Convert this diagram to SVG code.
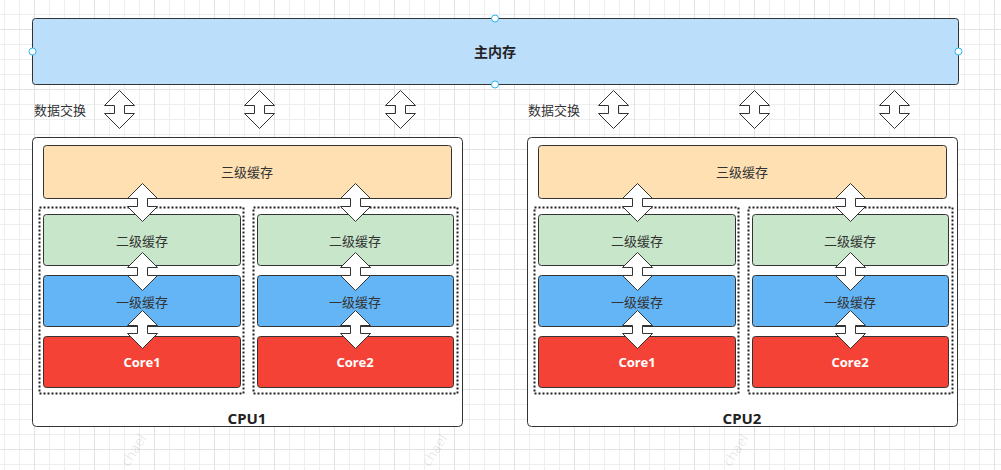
<svg xmlns="http://www.w3.org/2000/svg" width="1001" height="470" viewBox="0 0 1001 470">
<style>
.box{stroke:#333;stroke-width:1}
.mem{fill:#bbdefb}
.cpu{fill:#fff}
.l3{fill:#ffe0b2}
.l2{fill:#c8e6c9}
.l1{fill:#64b5f6}
.core{fill:#f44336}
.dot{fill:none;stroke:#222;stroke-width:2;stroke-dasharray:2 2}
.arr{fill:#fff;stroke:#333;stroke-width:1;stroke-linejoin:miter}
.handle{fill:#fff;stroke:#29b6f2;stroke-width:1}
.t{font-family:"Noto Sans CJK SC","Noto Sans",sans-serif;font-size:13px;fill:#333;text-anchor:middle;dominant-baseline:central}
.tb{font-family:"Noto Sans","Noto Sans CJK SC",sans-serif;font-weight:bold;text-anchor:middle;dominant-baseline:central}
.wm{font-family:"Noto Sans",sans-serif;font-size:14px;fill:#000;fill-opacity:0.1;text-anchor:end}
</style>
<defs>
<pattern id="grid" patternUnits="userSpaceOnUse" x="34" y="29" width="60" height="60">
<path d="M15.5,0V60M30.5,0V60M45.5,0V60M0,15.5H60M0,30.5H60M0,45.5H60" stroke="#eeeeee" stroke-width="1" fill="none"/>
<path d="M0.5,0V60M0,0.5H60" stroke="#e2e2e2" stroke-width="1" fill="none"/>
</pattern>
<path id="dbl" d="M0,0 L15,15 L5,15 L5,23 L15,23 L0,38 L-15,23 L-5,23 L-5,15 L-15,15 Z"/>
</defs>
<rect width="1001" height="470" fill="#fff"/>
<rect width="1001" height="470" fill="url(#grid)"/>
<g id="watermarks">
<text class="wm" transform="translate(147,438) rotate(-58)">chael</text>
<text class="wm" transform="translate(448,438) rotate(-58)">chael</text>
<text class="wm" transform="translate(749,438) rotate(-58)">chael</text>
</g>
<g id="main-memory">
<rect class="box mem" x="32.5" y="18.5" width="926" height="66" rx="3"/>
<text class="tb" x="495" y="51" font-size="14" fill="#222">主内存</text>
<circle class="handle" cx="495" cy="18.5" r="3.5"/>
<circle class="handle" cx="32.5" cy="51.5" r="3.5"/>
<circle class="handle" cx="958.5" cy="51.5" r="3.5"/>
<circle class="handle" cx="495" cy="84.5" r="3.5"/>
</g>
<g id="label-exchange-1"><text class="t" x="60" y="109">数据交换</text></g>
<g id="label-exchange-2"><text class="t" x="554" y="109">数据交换</text></g>
<g id="cpu1">
<rect class="box cpu" x="32.5" y="137.5" width="430" height="289" rx="4"/>
<text class="tb" x="247" y="418" font-size="15" fill="#222">CPU1</text>
</g>
<g id="cpu2">
<rect class="box cpu" x="527.5" y="137.5" width="430" height="289" rx="4"/>
<text class="tb" x="742" y="418" font-size="15" fill="#222">CPU2</text>
</g>
<g id="cpu1-l3"><rect class="box l3" x="43.5" y="145.5" width="408" height="53" rx="3"/><text class="t" x="247" y="171">三级缓存</text></g>
<g id="cpu2-l3"><rect class="box l3" x="538.5" y="145.5" width="408" height="53" rx="3"/><text class="t" x="742" y="171">三级缓存</text></g>
<g id="cpu1-group1"><rect class="dot" x="39.5" y="207.5" width="204" height="186"/></g>
<g id="cpu1-group2"><rect class="dot" x="253.5" y="207.5" width="204" height="186"/></g>
<g id="cpu2-group1"><rect class="dot" x="534.5" y="207.5" width="204" height="186"/></g>
<g id="cpu2-group2"><rect class="dot" x="748.5" y="207.5" width="204" height="186"/></g>
<g id="cpu1-l2a"><rect class="box l2" x="43.5" y="214.5" width="197" height="51" rx="3"/><text class="t" x="142" y="240">二级缓存</text></g>
<g id="cpu1-l2b"><rect class="box l2" x="257.5" y="214.5" width="196" height="51" rx="3"/><text class="t" x="355" y="240">二级缓存</text></g>
<g id="cpu2-l2a"><rect class="box l2" x="538.5" y="214.5" width="197" height="51" rx="3"/><text class="t" x="637" y="240">二级缓存</text></g>
<g id="cpu2-l2b"><rect class="box l2" x="752.5" y="214.5" width="196" height="51" rx="3"/><text class="t" x="850" y="240">二级缓存</text></g>
<g id="cpu1-l1a"><rect class="box l1" x="43.5" y="275.5" width="197" height="51" rx="3"/></g>
<g id="cpu1-l1b"><rect class="box l1" x="257.5" y="275.5" width="196" height="51" rx="3"/></g>
<g id="cpu2-l1a"><rect class="box l1" x="538.5" y="275.5" width="197" height="51" rx="3"/></g>
<g id="cpu2-l1b"><rect class="box l1" x="752.5" y="275.5" width="196" height="51" rx="3"/></g>
<g id="cpu1-core1"><rect class="box core" x="43.5" y="336.5" width="197" height="51" rx="3"/><text class="tb" x="142" y="362" font-size="13" fill="#fff">Core1</text></g>
<g id="cpu1-core2"><rect class="box core" x="257.5" y="336.5" width="196" height="51" rx="3"/><text class="tb" x="355" y="362" font-size="13" fill="#fff">Core2</text></g>
<g id="cpu2-core1"><rect class="box core" x="538.5" y="336.5" width="197" height="51" rx="3"/><text class="tb" x="637" y="362" font-size="13" fill="#fff">Core1</text></g>
<g id="cpu2-core2"><rect class="box core" x="752.5" y="336.5" width="196" height="51" rx="3"/><text class="tb" x="850" y="362" font-size="13" fill="#fff">Core2</text></g>
<g id="connectors" class="arr">
<use href="#dbl" x="119.5" y="90.5"/>
<use href="#dbl" x="259.5" y="90.5"/>
<use href="#dbl" x="400.5" y="90.5"/>
<use href="#dbl" x="613.5" y="90.5"/>
<use href="#dbl" x="754.5" y="90.5"/>
<use href="#dbl" x="894.5" y="90.5"/>
<use href="#dbl" x="142.5" y="183.5"/>
<use href="#dbl" x="355.5" y="183.5"/>
<use href="#dbl" x="637.5" y="183.5"/>
<use href="#dbl" x="850.5" y="183.5"/>
<use href="#dbl" x="142.5" y="252.5"/>
<use href="#dbl" x="355.5" y="252.5"/>
<use href="#dbl" x="637.5" y="252.5"/>
<use href="#dbl" x="850.5" y="252.5"/>
<use href="#dbl" x="142.5" y="310.5"/>
<use href="#dbl" x="355.5" y="310.5"/>
<use href="#dbl" x="637.5" y="310.5"/>
<use href="#dbl" x="850.5" y="310.5"/>
</g>
<g id="l1-labels">
<text class="t" x="142" y="301">一级缓存</text>
<text class="t" x="355" y="301">一级缓存</text>
<text class="t" x="637" y="301">一级缓存</text>
<text class="t" x="850" y="301">一级缓存</text>
</g>
</svg>
